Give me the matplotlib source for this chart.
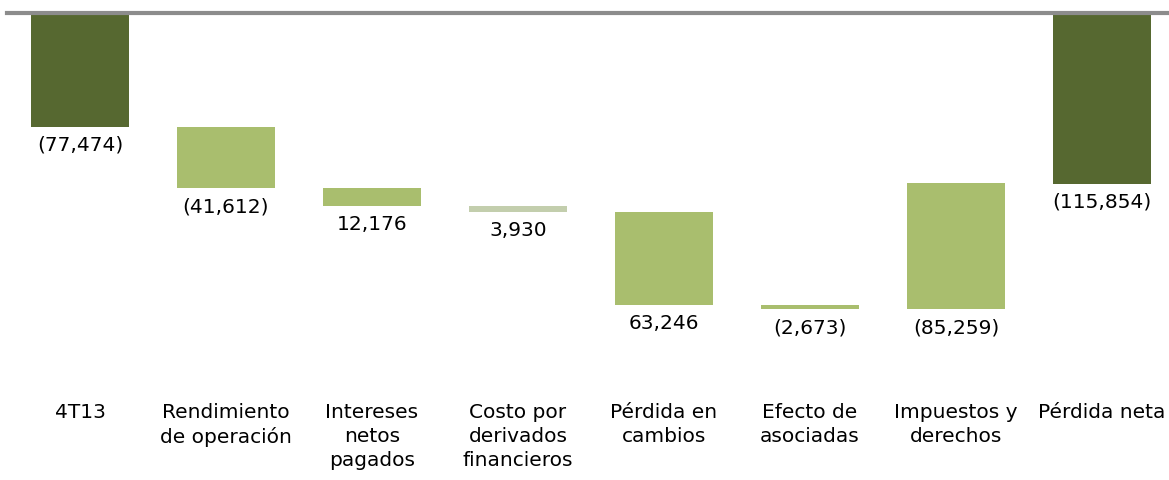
import matplotlib
matplotlib.use("Agg")
import matplotlib.pyplot as plt
import matplotlib.transforms as mtransforms

categories = ["4T13", "Rendimiento\nde operación", "Intereses\nnetos\npagados",
              "Costo por\nderivados\nfinancieros", "Pérdida en\ncambios",
              "Efecto de\nasociadas", "Impuestos y\nderechos", "Pérdida neta"]
# loss magnitude; positive steps increase the loss (drawn downward)
start_total = 77474
steps = [41612, 12176, 3930, 63246, 2673, -85259]
end_total = 115854
value_labels = ["(77,474)", "(41,612)", "12,176", "3,930", "63,246",
                "(2,673)", "(85,259)", "(115,854)"]

dark = "#566830"
light = "#A9BE6E"
pale = "#C3CEAD"
colors = [dark, light, light, pale, light, light, light, dark]

bottoms = [0]
heights = [start_total]
cum = start_total
for s in steps:
    lo = min(cum, cum + s)
    bottoms.append(lo)
    heights.append(abs(s))
    cum += s
bottoms.append(0)
heights.append(end_total)

fig = plt.figure(figsize=(11.69, 4.8), dpi=100)
W, H = 1169, 480
ax = fig.add_axes([7 / W, 98.5 / H, 1168 / W, 369 / H])
x = list(range(len(categories)))
ax.bar(x, heights, bottom=bottoms, width=0.67, color=colors, zorder=2)
ax.set_xlim(-0.5, 7.5)
ax.set_ylim(250000, 0)
for sp in ["left", "right", "bottom"]:
    ax.spines[sp].set_visible(False)
ax.spines["top"].set_color("#8C8C8C")
ax.spines["top"].set_linewidth(3)
ax.spines["top"].set_zorder(3)
ax.set_xticks([])
ax.set_yticks([])

font = "DejaVu Sans"
fs = 14.5
for i, (b, h, lab) in enumerate(zip(bottoms, heights, value_labels)):
    ax.annotate(lab, (i, b + h), xytext=(0, -6.5), textcoords="offset points",
                ha="center", va="top", fontsize=fs, family=font)

trans = mtransforms.blended_transform_factory(ax.transData, fig.transFigure)
for i, c in enumerate(categories):
    ax.text(i, 1 - 403 / H, c, transform=trans, ha="center", va="top",
            fontsize=fs, family=font, linespacing=1.32, clip_on=False)

fig.savefig("out.png", dpi=100)
